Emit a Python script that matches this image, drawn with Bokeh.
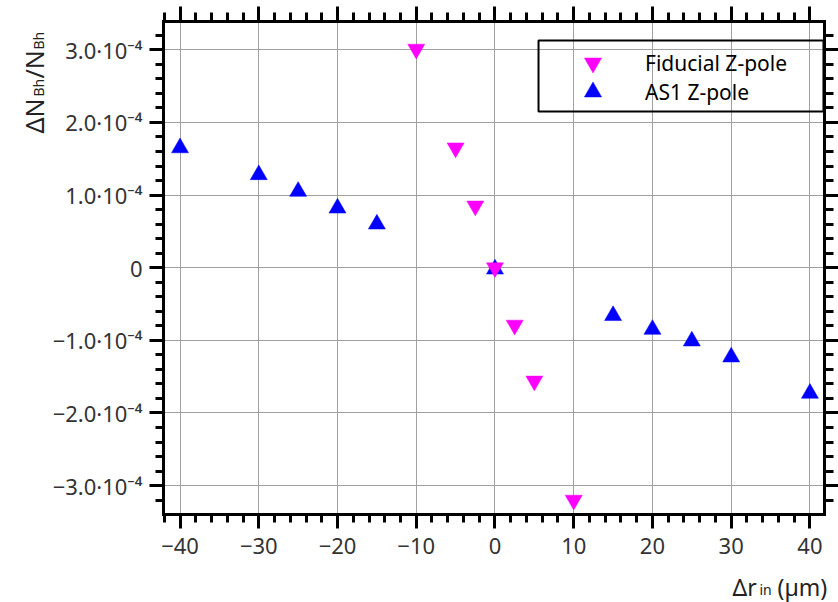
import math
from bokeh.plotting import figure
from bokeh.models import (LinearAxis, FixedTicker, CustomJSTickFormatter, Range1d,
                          Label, Legend, LegendItem, ColumnDataSource, BoxAnnotation,
                          CustomLabelingPolicy)
from bokeh.embed import file_html
from bokeh.resources import INLINE

# ---- data ----
fid_x = [-10, -5, -2.5, 0, 2.5, 5, 10]
fid_y = [3.01e-4, 1.65e-4, 0.85e-4, 0.0, -0.79e-4, -1.56e-4, -3.20e-4]

as1_x = [-40, -30, -25, -20, -15, 0, 15, 20, 25, 30, 40]
as1_y = [1.65e-4, 1.28e-4, 1.05e-4, 0.82e-4, 0.60e-4, -0.02e-4,
         -0.66e-4, -0.85e-4, -1.01e-4, -1.23e-4, -1.73e-4]

x_major = [-40, -30, -20, -10, 0, 10, 20, 30, 40]
x_minor = [v for v in range(-42, 43, 2)]
y_major = [-3e-4, -2e-4, -1e-4, 0.0, 1e-4, 2e-4, 3e-4]
y_minor = [k * 0.2e-4 for k in range(-17, 18)]

FONT = "Noto Sans"
X0, X1 = -42.1, 41.85
Y0, Y1 = -3.398e-4, 3.39e-4

p = figure(frame_width=661, frame_height=493,
           x_range=Range1d(X0, X1), y_range=Range1d(Y0, Y1),
           output_backend="svg", toolbar_location=None,
           min_border_left=163, min_border_right=0, min_border_top=21, min_border_bottom=88)
p.outline_line_color = None
p.background_fill_color = "white"
p.border_fill_color = "white"

xt = FixedTicker(ticks=x_major, minor_ticks=x_minor)
yt = FixedTicker(ticks=y_major, minor_ticks=y_minor)

xfmt = CustomJSTickFormatter(code="""
if (Math.abs(tick) < 1e-9) { return "0"; }
return (tick < 0 ? "\u2212" : "") + Math.abs(tick).toFixed(0);
""")
yfmt = CustomJSTickFormatter(code="""
if (Math.abs(tick) < 1e-12) { return "0"; }
const v = tick * 1e4;
return (v < 0 ? "\u2212" : "") + Math.abs(v).toFixed(1) + "\u00b710\u207b\u2074";
""")
nofmt = CustomJSTickFormatter(code='return "";')
nolabels = CustomLabelingPolicy(code="for (const i of [...indices]) { indices.unset(i) } return indices")


def style_axis(ax, major_out, minor_out, labels=True):
    ax.axis_line_width = 3
    ax.axis_line_color = "black"
    ax.axis_line_cap = "square"
    ax.major_tick_line_width = 3
    ax.minor_tick_line_width = 3
    ax.major_tick_line_color = "black"
    ax.minor_tick_line_color = "black"
    ax.major_tick_in = 0
    ax.minor_tick_in = 0
    ax.major_tick_out = major_out
    ax.minor_tick_out = minor_out
    if labels:
        ax.major_label_text_font = FONT
        ax.major_label_text_font_size = "22px"
        ax.major_label_text_color = "#333333"
    else:
        ax.major_label_text_font_size = "1px"
        ax.major_label_standoff = 0
        ax.major_label_policy = nolabels


xa = p.xaxis[0]
xa.ticker = xt
xa.formatter = xfmt
style_axis(xa, 14, 8)
xa.major_label_standoff = 9

ya = p.yaxis[0]
ya.ticker = yt
ya.formatter = yfmt
style_axis(ya, 14, 8)
ya.major_label_standoff = 7

top = LinearAxis(ticker=xt, formatter=nofmt)
style_axis(top, 15, 9, labels=False)
p.add_layout(top, "above")

right = LinearAxis(ticker=yt, formatter=nofmt)
style_axis(right, 14, 9, labels=False)
p.add_layout(right, "right")

p.xgrid.ticker = xt
p.ygrid.ticker = yt
p.xgrid.grid_line_color = "#a0a0a0"
p.ygrid.grid_line_color = "#a0a0a0"
p.xgrid.grid_line_width = 1
p.ygrid.grid_line_width = 1

src_fid = ColumnDataSource(dict(x=fid_x, y=fid_y))
src_as1 = ColumnDataSource(dict(x=as1_x, y=as1_y))

r_as1 = p.scatter("x", "y", source=src_as1, marker="triangle", size=17,
                  fill_color="#0000ff", line_color="#0000ff", line_width=0.5)
r_fid = p.scatter("x", "y", source=src_fid, marker="inverted_triangle", size=17,
                  fill_color="#ff00ff", line_color="#ff00ff", line_width=0.5)

# ---- legend: frame box + one borderless legend per entry (big glyphs) ----
p.add_layout(BoxAnnotation(left=5.53, right=41.72, top=3.128e-4, bottom=2.15e-4,
                           fill_alpha=0, line_color="black", line_alpha=1.0, line_width=2))


def leg(label, r, vy):
    return Legend(items=[LegendItem(label=label, renderers=[r])],
                  location=(408, vy), margin=0, padding=0, spacing=0,
                  glyph_width=43, glyph_height=43, label_standoff=31,
                  border_line_color=None, background_fill_alpha=0,
                  label_text_font=FONT, label_text_font_size="21px",
                  label_text_color="black")


p.add_layout(leg("Fiducial Z-pole", r_fid, 430), "center")
p.add_layout(leg("AS1 Z-pole", r_as1, 401), "center")

# ---- axis titles (composed for subscripts); kept in the right side panel so they are
# ---- not clipped to the frame and do not shift the frame ----


def lab(x, y, text, dx, dy, size, angle=0.0):
    p.add_layout(Label(x=x, y=y, x_offset=dx, y_offset=dy, text=text, angle=angle,
                       text_font=FONT, text_font_size=size, text_color="#222222",
                       text_align="left", text_baseline="alphabetic"), "right")


A = math.pi / 2
lab(X0, Y1, "\u0394N", -130, -112, "25px", A)
lab(X0, Y1, "Bh", -125, -75, "14px", A)
lab(X0, Y1, "/N", -130, -57, "25px", A)
lab(X0, Y1, "Bh", -125, -28, "14px", A)

lab(X1, Y0, "\u0394r", -92, -72, "23px")
lab(X1, Y0, "in", -65, -75, "14px")
lab(X1, Y0, "(\u00b5m)", -47, -72, "23px")

open("out.html", "w").write(file_html(p, INLINE))
